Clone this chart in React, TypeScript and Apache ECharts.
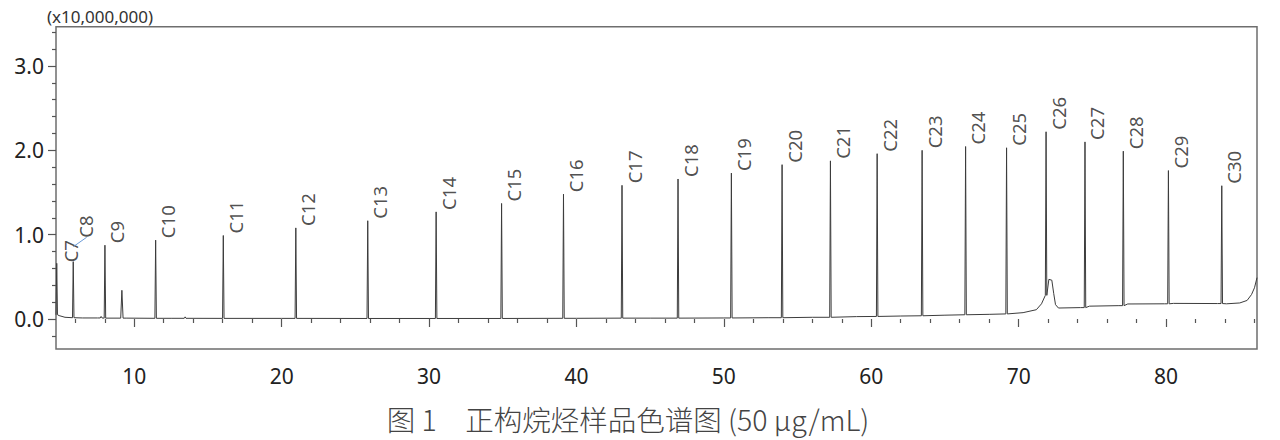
import React, { useEffect, useRef } from 'react';
import * as echarts from 'echarts';

// Labelled n-alkane peaks (retention time in min, apex height in x10,000,000, foot level)
const peakNames = ['C7', 'C8', 'C9', 'C10', 'C11', 'C12', 'C13', 'C14', 'C15', 'C16', 'C17', 'C18', 'C19', 'C20', 'C21', 'C22', 'C23', 'C24', 'C25', 'C26', 'C27', 'C28', 'C29', 'C30'];
const peakTimes = [4.74, 5.86, 8.01, 11.45, 16.04, 20.96, 25.84, 30.48, 34.92, 39.12, 43.09, 46.89, 50.51, 53.95, 57.23, 60.4, 63.45, 66.4, 69.18, 71.86, 74.5, 77.1, 80.16, 83.78];
const peakHeights = [0.66, 0.68, 0.875, 0.935, 0.99, 1.08, 1.165, 1.27, 1.37, 1.48, 1.585, 1.66, 1.73, 1.83, 1.875, 1.96, 2.0, 2.045, 2.03, 2.22, 2.1, 1.99, 1.76, 1.58];
const peakFoot = [0.05, 0.015, 0.01, 0.008, 0.007, 0.007, 0.006, 0.006, 0.006, 0.008, 0.01, 0.01, 0.012, 0.015, 0.02, 0.03, 0.038, 0.05, 0.06, 0.28, 0.135, 0.158, 0.18, 0.183];

// Unlabelled small peaks
const minorTimes = [7.75, 9.16, 13.45];
const minorHeights = [0.03, 0.34, 0.025];
const minorFoot = [0.012, 0.01, 0.008];

// Baseline trace points [time, level]
const baseline: [number, number][] = [
  [4.9, 0.04], [5.3, 0.02], [6.5, 0.012], [7.5, 0.012], [9.5, 0.01], [12.5, 0.008], [20, 0.007],
  [30, 0.006], [40, 0.008], [45, 0.01], [50, 0.012], [53, 0.015], [56, 0.02], [59, 0.028],
  [62, 0.035], [65, 0.045], [68, 0.055], [70.3, 0.075], [71.2, 0.11], [71.55, 0.18],
  [72.05, 0.47], [72.25, 0.46], [72.38, 0.3], [72.5, 0.17], [72.7, 0.13], [74.2, 0.135],
  [74.8, 0.152], [76.8, 0.158], [77.4, 0.178], [79.9, 0.18], [80.5, 0.185], [83.5, 0.183],
  [84.1, 0.18], [85.0, 0.19], [85.5, 0.22], [85.8, 0.29], [86.0, 0.37], [86.17, 0.49],
];

// Leader line next to the C7/C8 labels [time, value]
const leaderLine: [number, number][] = [[5.86, 0.857], [6.77, 0.969]];

const xMajorTicks = [10, 20, 30, 40, 50, 60, 70, 80];
const xMinorTicks = [6, 8, 12, 14, 16, 18, 22, 24, 26, 28, 32, 34, 36, 38, 42, 44, 46, 48, 52, 54, 56, 58, 62, 64, 66, 68, 72, 74, 76, 78, 82, 84, 86];
const yMajorTicks = [0, 1, 2, 3];
const yMinorTicks = [-0.2, 0.2, 0.4, 0.6, 0.8, 1.2, 1.4, 1.6, 1.8, 2.2, 2.4, 2.6, 2.8, 3.2, 3.4];

const X_MIN = 4.69;
const X_MAX = 86.17;
const Y_MIN = -0.356;
const Y_MAX = 3.466;

const yUnitLabel = '(x10,000,000)';
const caption = '图 1　正构烷烃样品色谱图 (50 µg/mL)';

const FONT = 'Noto Sans';

export default function App() {
  const ref = useRef<HTMLDivElement>(null);
  useEffect(() => {
    document.body.style.margin = '0';
    const chart = echarts.init(ref.current as HTMLDivElement, null, { renderer: 'svg' });

    const trace: [number, number][] = baseline.map((p) => [p[0], p[1]] as [number, number]);
    peakTimes.forEach((t, i) => {
      const w = 0.05;
      trace.push([t - w, peakFoot[i]], [t, peakHeights[i]], [t + w, peakFoot[i]]);
    });
    minorTimes.forEach((t, i) => {
      const w = i === 1 ? 0.08 : 0.06;
      trace.push([t - w, minorFoot[i]], [t, minorHeights[i]], [t + w, minorFoot[i]]);
    });
    trace.sort((a, b) => a[0] - b[0]);

    const labelData = peakNames.map((n, i) => {
      const d: any = { name: n, value: [peakTimes[i], peakHeights[i]] };
      if (n === 'C7') d.label = { position: [14.5, -0.5] };
      if (n === 'C8') d.label = { position: [12.8, -23.5] };
      return d;
    });

    const axisTickStyle = { color: '#555', width: 1.2 };

    const option: any = {
      animation: false,
      grid: {
        left: 56,
        right: 23,
        top: 26.7,
        bottom: 91,
        show: true,
        borderColor: '#6e6e6e',
        borderWidth: 1.5,
        containLabel: false,
      },
      xAxis: [
        {
          type: 'value',
          min: X_MIN,
          max: X_MAX,
          axisLine: { show: false },
          splitLine: { show: false },
          axisTick: { show: true, length: 8, lineStyle: axisTickStyle, customValues: xMajorTicks },
          axisLabel: { show: true, customValues: xMajorTicks, margin: 16, fontSize: 21, color: '#222', fontFamily: FONT },
        },
        {
          type: 'value',
          min: X_MIN,
          max: X_MAX,
          position: 'bottom',
          axisLine: { show: false },
          splitLine: { show: false },
          axisTick: { show: true, length: 4, lineStyle: axisTickStyle, customValues: xMinorTicks },
          axisLabel: { show: false },
        },
      ],
      yAxis: [
        {
          type: 'value',
          min: Y_MIN,
          max: Y_MAX,
          axisLine: { show: false },
          splitLine: { show: false },
          axisTick: { show: true, length: 8, lineStyle: axisTickStyle, customValues: yMajorTicks },
          axisLabel: {
            show: true,
            customValues: yMajorTicks,
            margin: 12,
            fontSize: 21,
            color: '#222',
            fontFamily: FONT,
            formatter: (v: number) => v.toFixed(1),
          },
        },
        {
          type: 'value',
          min: Y_MIN,
          max: Y_MAX,
          position: 'left',
          axisLine: { show: false },
          splitLine: { show: false },
          axisTick: { show: true, length: 4, lineStyle: axisTickStyle, customValues: yMinorTicks },
          axisLabel: { show: false },
        },
      ],
      series: [
        {
          type: 'line',
          data: trace,
          showSymbol: false,
          symbol: 'none',
          clip: true,
          lineStyle: { color: '#3c3c3c', width: 1 },
          markLine: {
            silent: true,
            symbol: 'none',
            label: { show: false },
            lineStyle: { color: '#6b9bd8', width: 1, type: 'solid' },
            data: [[{ coord: leaderLine[0] }, { coord: leaderLine[1] }]],
          },
        },
        {
          type: 'scatter',
          data: labelData,
          symbolSize: 1,
          itemStyle: { color: 'rgba(0,0,0,0)' },
          silent: true,
          label: {
            show: true,
            formatter: '{b}',
            position: [12.5, -1.5],
            rotate: 90,
            align: 'left',
            verticalAlign: 'middle',
            fontSize: 18.5,
            color: '#222',
            fontFamily: FONT,
          },
        },
      ],
      graphic: [
        {
          type: 'text',
          left: 47,
          top: 8,
          style: { text: yUnitLabel, fontSize: 17, fill: '#333', fontFamily: FONT },
        },
        {
          type: 'text',
          x: 628,
          y: 418,
          style: {
            text: caption,
            fontSize: 28.5,
            fontWeight: 300,
            fill: '#444',
            fontFamily: 'Noto Sans CJK SC',
            align: 'center',
            verticalAlign: 'middle',
          },
        },
      ],
    };
    chart.setOption(option);
    return () => chart.dispose();
  }, []);
  return <div ref={ref} style={{ width: 1280, height: 440 }} />;
}
